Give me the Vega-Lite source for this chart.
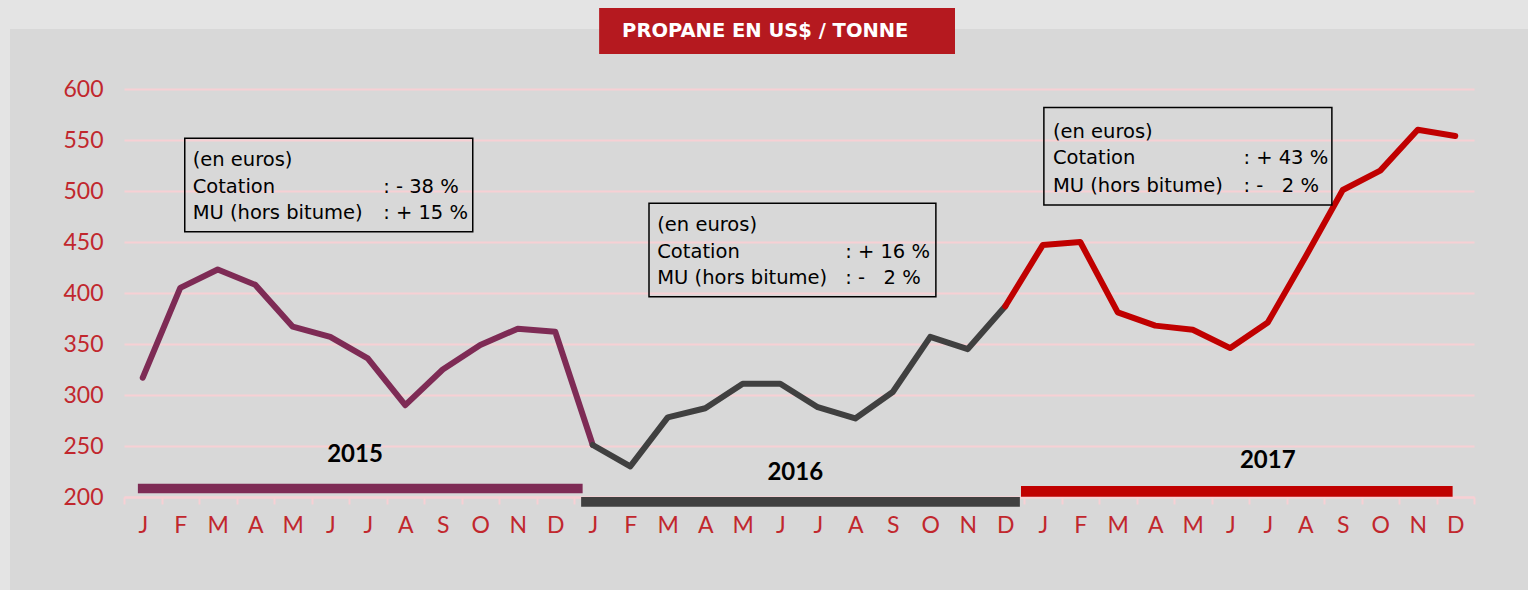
{
  "$schema": "https://vega.github.io/schema/vega-lite/v6.json",
  "width": 1350,
  "height": 408,
  "autosize": {"type": "none"},
  "padding": {"left": 124, "top": 89, "right": 54, "bottom": 93},
  "background": "#d8d8d8",
  "config": {"view": {"stroke": null}},
  "datasets": {
    "prices": [
      {"s": "2015", "t": 0.5, "v": 317}, {"s": "2015", "t": 1.5, "v": 405}, {"s": "2015", "t": 2.5, "v": 423},
      {"s": "2015", "t": 3.5, "v": 408}, {"s": "2015", "t": 4.5, "v": 367}, {"s": "2015", "t": 5.5, "v": 357},
      {"s": "2015", "t": 6.5, "v": 336}, {"s": "2015", "t": 7.5, "v": 290}, {"s": "2015", "t": 8.5, "v": 325},
      {"s": "2015", "t": 9.5, "v": 349}, {"s": "2015", "t": 10.5, "v": 365}, {"s": "2015", "t": 11.5, "v": 362},
      {"s": "2015", "t": 12.5, "v": 251},
      {"s": "2016", "t": 12.5, "v": 251}, {"s": "2016", "t": 13.5, "v": 230}, {"s": "2016", "t": 14.5, "v": 278},
      {"s": "2016", "t": 15.5, "v": 287}, {"s": "2016", "t": 16.5, "v": 311}, {"s": "2016", "t": 17.5, "v": 311},
      {"s": "2016", "t": 18.5, "v": 288}, {"s": "2016", "t": 19.5, "v": 277}, {"s": "2016", "t": 20.5, "v": 303},
      {"s": "2016", "t": 21.5, "v": 357}, {"s": "2016", "t": 22.5, "v": 345}, {"s": "2016", "t": 23.5, "v": 387},
      {"s": "2017", "t": 23.5, "v": 387}, {"s": "2017", "t": 24.5, "v": 447}, {"s": "2017", "t": 25.5, "v": 450},
      {"s": "2017", "t": 26.5, "v": 381}, {"s": "2017", "t": 27.5, "v": 368}, {"s": "2017", "t": 28.5, "v": 364},
      {"s": "2017", "t": 29.5, "v": 346}, {"s": "2017", "t": 30.5, "v": 371}, {"s": "2017", "t": 31.5, "v": 435},
      {"s": "2017", "t": 32.5, "v": 501}, {"s": "2017", "t": 33.5, "v": 520}, {"s": "2017", "t": 34.5, "v": 560},
      {"s": "2017", "t": 35.5, "v": 554}
    ],
    "years": [
      {"s": "2015", "x0": 0.37, "x1": 12.23, "y0": 203.6, "y1": 213.0, "lx": 6.16, "ly": 241},
      {"s": "2016", "x0": 12.19, "x1": 23.89, "y0": 190.5, "y1": 200.0, "lx": 17.9, "ly": 223.5},
      {"s": "2017", "x0": 23.92, "x1": 35.43, "y0": 200.3, "y1": 210.8, "lx": 30.5, "ly": 235.6}
    ],
    "frame": [
      {"x0": -3.31, "x1": 37.44, "y0": 658.8, "y1": 687.3},
      {"x0": -3.31, "x1": -3.04, "y0": 108.8, "y1": 658.8}
    ],
    "titlebox": [
      {"x0": 12.67, "x1": 22.16, "y0": 634.3, "y1": 679.4, "tx": 17.1, "ty": 656.9, "label": "PROPANE EN US$ / TONNE"}
    ],
    "boxes": [
      {"x0": 1.62, "x1": 9.30, "y0": 460.1, "y1": 551.7},
      {"x0": 14.0, "x1": 21.65, "y0": 396.4, "y1": 487.9},
      {"x0": 24.53, "x1": 32.21, "y0": 486.3, "y1": 581.8}
    ],
    "notes": [
      {"x": 1.83, "y": 530.4, "label": "(en euros)"},
      {"x": 1.83, "y": 504.2, "label": "Cotation"},
      {"x": 1.83, "y": 478.1, "label": "MU (hors bitume)"},
      {"x": 6.91, "y": 504.2, "label": ": - 38 %"},
      {"x": 6.91, "y": 478.1, "label": ": + 15 %"},
      {"x": 14.22, "y": 466.7, "label": "(en euros)"},
      {"x": 14.22, "y": 440.5, "label": "Cotation"},
      {"x": 14.22, "y": 414.4, "label": "MU (hors bitume)"},
      {"x": 19.23, "y": 440.5, "label": ": + 16 %"},
      {"x": 19.23, "y": 414.4, "label": ": -\u00a0\u00a0\u00a02 %"},
      {"x": 24.77, "y": 558.1, "label": "(en euros)"},
      {"x": 24.77, "y": 532.1, "label": "Cotation"},
      {"x": 24.77, "y": 504.9, "label": "MU (hors bitume)"},
      {"x": 29.85, "y": 532.1, "label": ": + 43 %"},
      {"x": 29.85, "y": 504.9, "label": ": -\u00a0\u00a0\u00a02 %"}
    ]
  },
  "layer": [
    {
      "data": {"name": "frame"},
      "mark": {"type": "rect", "color": "#e4e4e4"},
      "encoding": {
        "x": {"field": "x0", "type": "quantitative", "scale": {"domain": [0, 36], "nice": false, "zero": false}, "axis": null},
        "x2": {"field": "x1"},
        "y": {"field": "y0", "type": "quantitative", "scale": {"domain": [200, 600], "nice": false, "zero": false}, "axis": null},
        "y2": {"field": "y1"}
      }
    },
    {
      "data": {"name": "titlebox"},
      "mark": {"type": "rect", "color": "#b5191f"},
      "encoding": {
        "x": {"field": "x0", "type": "quantitative", "axis": null},
        "x2": {"field": "x1"},
        "y": {"field": "y0", "type": "quantitative", "axis": null},
        "y2": {"field": "y1"}
      }
    },
    {
      "data": {"name": "titlebox"},
      "mark": {"type": "text", "color": "#ffffff", "font": "DejaVu Sans", "fontWeight": "bold", "fontSize": 19.5, "align": "center", "baseline": "middle"},
      "encoding": {
        "x": {"field": "tx", "type": "quantitative", "axis": null},
        "y": {"field": "ty", "type": "quantitative", "axis": null},
        "text": {"field": "label"}
      }
    },
    {
      "data": {"name": "prices"},
      "mark": {"type": "line", "strokeWidth": 6, "strokeCap": "round", "strokeJoin": "round"},
      "encoding": {
        "x": {
          "field": "t", "type": "quantitative",
          "scale": {"domain": [0, 36], "nice": false, "zero": false},
          "axis": {
            "orient": "bottom", "title": null,
            "values": [0,1,2,3,4,5,6,7,8,9,10,11,12,13,14,15,16,17,18,19,20,21,22,23,24,25,26,27,28,29,30,31,32,33,34,35,36],
            "labels": false, "grid": false,
            "domain": true, "domainColor": "#f7d0d4", "domainWidth": 2,
            "ticks": true, "tickColor": "#f7d0d4", "tickSize": 7, "tickWidth": 2
          }
        },
        "y": {
          "field": "v", "type": "quantitative",
          "scale": {"domain": [200, 600], "nice": false, "zero": false},
          "axis": {
            "orient": "left", "title": null, "values": [200, 250, 300, 350, 400, 450, 500, 550, 600],
            "domain": false, "ticks": false, "grid": true,
            "gridColor": "#f7d0d4", "gridWidth": 2,
            "labelFont": "Lato", "labelFontSize": 23, "labelColor": "#c1272d", "labelPadding": 21
          }
        },
        "color": {
          "field": "s", "type": "nominal",
          "scale": {"domain": ["2015", "2016", "2017"], "range": ["#7e2b55", "#404040", "#c00000"]},
          "legend": null
        }
      }
    },
    {
      "data": {"name": "years"},
      "mark": {"type": "rect"},
      "encoding": {
        "x": {
          "field": "x0", "type": "quantitative",
          "axis": {
            "orient": "bottom", "title": null,
            "values": [0.5,1.5,2.5,3.5,4.5,5.5,6.5,7.5,8.5,9.5,10.5,11.5,12.5,13.5,14.5,15.5,16.5,17.5,18.5,19.5,20.5,21.5,22.5,23.5,24.5,25.5,26.5,27.5,28.5,29.5,30.5,31.5,32.5,33.5,34.5,35.5],
            "labelExpr": "['J','F','M','A','M','J','J','A','S','O','N','D'][floor(datum.value) % 12]",
            "ticks": false, "domain": false, "grid": false,
            "labelFont": "Lato", "labelFontSize": 23, "labelColor": "#c1272d",
            "labelPadding": 17, "labelFlush": false, "labelOverlap": false
          }
        },
        "x2": {"field": "x1"},
        "y": {"field": "y0", "type": "quantitative", "axis": null},
        "y2": {"field": "y1"},
        "color": {"field": "s", "type": "nominal", "legend": null}
      }
    },
    {
      "data": {"name": "years"},
      "mark": {"type": "text", "color": "#000000", "font": "Lato", "fontWeight": "bold", "fontSize": 24, "align": "center", "baseline": "middle"},
      "encoding": {
        "x": {"field": "lx", "type": "quantitative", "axis": null},
        "y": {"field": "ly", "type": "quantitative", "axis": null},
        "text": {"field": "s"}
      }
    },
    {
      "data": {"name": "boxes"},
      "mark": {"type": "rect", "fill": "#ffffff", "fillOpacity": 0, "stroke": "#000000", "strokeWidth": 1.5},
      "encoding": {
        "x": {"field": "x0", "type": "quantitative", "axis": null},
        "x2": {"field": "x1"},
        "y": {"field": "y0", "type": "quantitative", "axis": null},
        "y2": {"field": "y1"}
      }
    },
    {
      "data": {"name": "notes"},
      "mark": {"type": "text", "color": "#000000", "font": "DejaVu Sans", "fontSize": 19.5, "align": "left", "baseline": "middle"},
      "encoding": {
        "x": {"field": "x", "type": "quantitative", "axis": null},
        "y": {"field": "y", "type": "quantitative", "axis": null},
        "text": {"field": "label"}
      }
    }
  ],
  "resolve": {"axis": {"x": "independent", "y": "independent"}}
}
